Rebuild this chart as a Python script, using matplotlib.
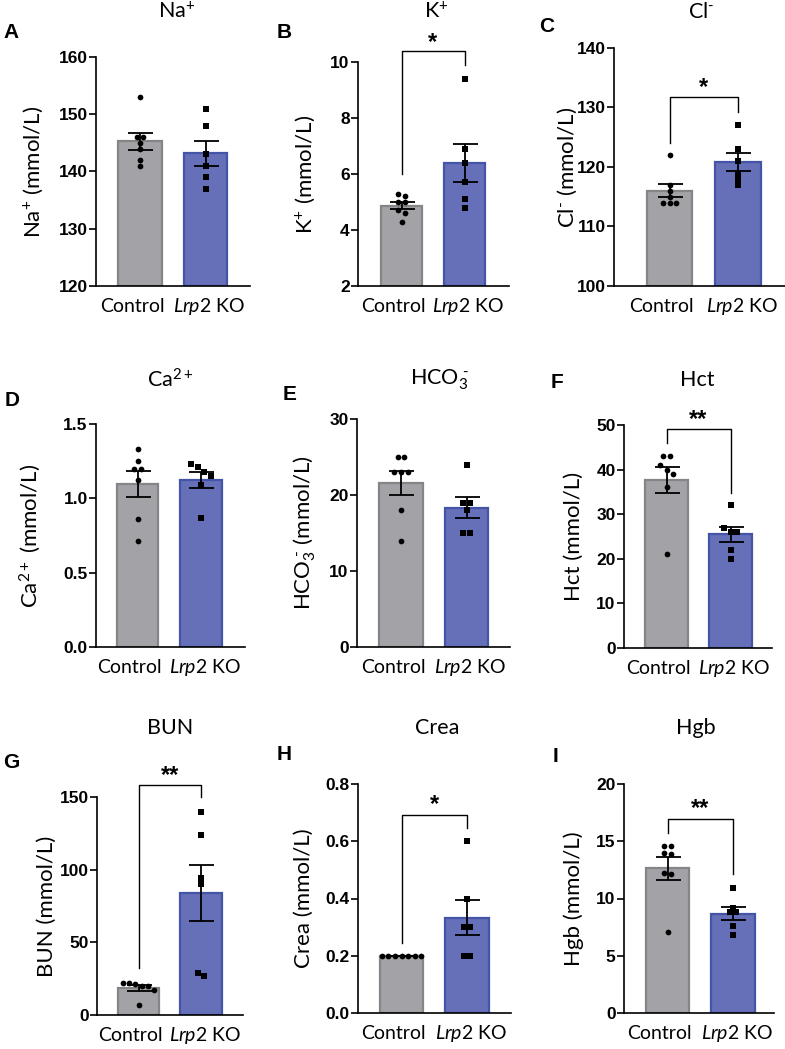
import matplotlib.pyplot as plt
import numpy as np

plt.rcParams['font.family'] = ['Lato', 'DejaVu Sans']
plt.rcParams['mathtext.fontset'] = 'custom'
plt.rcParams['mathtext.rm'] = 'Lato'
plt.rcParams['mathtext.it'] = 'Lato:italic'

groups = ["Control", r"$\mathit{Lrp2}$ KO"]

# panel data (Control n=7, Lrp2 KO n=6)
na_ctrl = [153, 146, 146, 145, 144, 142, 141]
na_ko = [151, 148, 143, 141, 139, 137]
k_ctrl = [5.3, 5.2, 5.0, 5.0, 4.7, 4.6, 4.3]
k_ko = [9.4, 6.9, 6.4, 5.7, 5.1, 4.8]
cl_ctrl = [122, 117, 116, 115, 114, 114, 114]
cl_ko = [127, 123, 121, 119, 118, 117]
ca_ctrl = [1.33, 1.25, 1.20, 1.20, 1.12, 0.86, 0.71]
ca_ko = [1.23, 1.21, 1.18, 1.15, 1.09, 0.87]
hco3_ctrl = [25, 25, 23, 23, 23, 18, 14]
hco3_ko = [24, 19, 19, 18, 15, 15]
hct_ctrl = [43, 43, 41, 40, 39, 36, 21]
hct_ko = [32, 27, 26, 26, 22, 20]
bun_ctrl = [22, 22, 21, 20, 20, 17, 7]
bun_ko = [140, 124, 94, 90, 29, 27]
crea_ctrl = [0.2, 0.2, 0.2, 0.2, 0.2, 0.2, 0.2]
crea_ko = [0.6, 0.4, 0.3, 0.3, 0.2, 0.2]
hgb_ctrl = [14.6, 14.6, 14.0, 13.9, 12.2, 12.1, 7.1]
hgb_ko = [10.9, 9.2, 8.8, 8.8, 7.6, 6.8]

names = ["Na$^{+}$", "K$^{+}$", "Cl$^{\u2010}$", "Ca$^{2+}$", "HCO$_{3}^{\\ \u2010}$",
         "Hct", "BUN", "Crea", "Hgb"]
letters = list("ABCDEFGHI")
yranges = [(120, 160, 10), (2, 10, 2), (100, 140, 10), (0, 1.5, 0.5), (0, 30, 10),
           (0, 50, 10), (0, 150, 50), (0, 0.8, 0.2), (0, 20, 5)]
tickfmt = ["{:.0f}", "{:.0f}", "{:.0f}", "{:.1f}", "{:.0f}", "{:.0f}", "{:.0f}", "{:.1f}", "{:.0f}"]
stars = [None, "*", "*", None, None, "**", "**", "*", "**"]
data = [(na_ctrl, na_ko), (k_ctrl, k_ko), (cl_ctrl, cl_ko), (ca_ctrl, ca_ko), (hco3_ctrl, hco3_ko),
        (hct_ctrl, hct_ko), (bun_ctrl, bun_ko), (crea_ctrl, crea_ko), (hgb_ctrl, hgb_ko)]

# bracket: top, left leg end, right leg end, star y (data units)
brackets = [None, (10.38, 6.0, 9.9, 10.7), (131.8, 124, 129.3, 133.4), None, None,
            (49.1, 46, 34.8, 51.3), (158.3, 32, 150, 165), (0.693, 0.244, 0.646, 0.73),
            (16.94, 15.7, 12.1, 17.9)]

# layout in pixels: spine x, ctrl centre, ko centre, right end, top, bottom
layout = [(96, 140, 205.5, 250, 57, 286), (358, 401.5, 464.5, 509, 62, 286),
          (614, 669.5, 738, 785, 48, 286), (96, 137.5, 201, 245, 424, 647),
          (357, 401, 466.5, 510, 419, 647), (624, 666.5, 730.5, 772, 425, 648),
          (97, 138.5, 201, 243, 797, 1015), (358, 401.5, 467, 511, 784, 1013),
          (624, 667.5, 733, 774, 784, 1013)]
title_pos = [(177, 12), (436, 12), (701, 12), (170, 380), (439, 380), (697, 380),
             (170, 728), (437, 728), (696, 728)]
letter_pos = [(3, 33), (277, 33), (539, 27), (5, 400), (283, 395), (551, 382),
              (3, 763), (277, 755), (553, 757)]
ylabel_x = [33, 305, 567, 30, 305, 574, 47, 304, 574]
label_shift = [-8, 4]  # px, Control / Lrp2 KO group labels

W, H = 785, 1049
fill_cols = ["#a2a2a7", "#6670b8"]
edge_cols = ["#858587", "#4454a6"]
markers = ["o", "s"]
bold_font = ["Liberation Sans", "DejaVu Sans"]

fig = plt.figure(figsize=(W / 100, H / 100), dpi=100)


def spread(vals, tol):
    # horizontal offsets for points that sit at about the same height
    order = np.argsort(vals)[::-1]
    offs = np.zeros(len(vals))
    grp = [order[0]]
    clusters = []
    for i in order[1:]:
        if abs(vals[i] - vals[grp[-1]]) < tol:
            grp.append(i)
        else:
            clusters.append(grp)
            grp = [i]
    clusters.append(grp)
    for g in clusters:
        n = len(g)
        for k, i in enumerate(g):
            offs[i] = (k - (n - 1) / 2) * 0.1
    return offs


for p in range(9):
    sx, c0, c1, rx, top, bot = layout[p]
    gap = c1 - c0
    ax = fig.add_axes([sx / W, 1 - bot / H, (rx - sx) / W, (bot - top) / H])
    ax.set_xlim((sx - c0) / gap, 1 + (rx - c1) / gap)
    lo, hi, step = yranges[p]
    ax.set_ylim(lo, hi)
    ticks = np.arange(lo, hi + step / 2, step)
    ax.set_yticks(ticks)
    ax.set_yticklabels([tickfmt[p].format(t) for t in ticks], fontweight="bold",
                       family=bold_font, fontsize=12.5)
    ax.set_xticks([])
    for g, name in enumerate(groups):
        ax.annotate(name, xy=(g, 0), xycoords=("data", "axes fraction"),
                    xytext=(label_shift[g] * 0.72, -14.5), textcoords="offset points",
                    ha="center", va="center", fontsize=14)
    ax.tick_params(axis="y", length=5, width=1.2, pad=1)
    ax.spines["top"].set_visible(False)
    ax.spines["right"].set_visible(False)
    for s in ["left", "bottom"]:
        ax.spines[s].set_linewidth(1.2)

    tol = (hi - lo) * 4.5 / (bot - top)
    for g in range(2):
        vals = np.array(data[p][g], dtype=float)
        m = vals.mean()
        sem = vals.std(ddof=1) / np.sqrt(len(vals))
        ax.bar(g, m - lo, bottom=lo, width=0.66, color=fill_cols[g], edgecolor=edge_cols[g],
               linewidth=1.6, zorder=1)
        ax.errorbar(g, m, yerr=sem, color="black", capsize=9, capthick=1.3, elinewidth=1.3,
                    zorder=3)
        xs = g + spread(vals, tol)
        ax.scatter(xs, vals, marker=markers[g], s=17, color="black", zorder=4, linewidths=0,
                   clip_on=False)

    if brackets[p] is not None:
        btop, l_end, r_end, sy = brackets[p]
        ax.plot([0, 0, 1, 1], [l_end, btop, btop, r_end], color="black", lw=1.0,
                clip_on=False, zorder=5)
        ax.text(0.5, sy, stars[p], ha="center", va="center", fontsize=17, fontweight="bold",
                family=bold_font, clip_on=False)

    ax.set_ylabel(names[p] + " (mmol/L)", fontsize=16)
    ax.yaxis.label.set_va("center")
    ax.yaxis.set_label_coords((ylabel_x[p] - sx) / (rx - sx), 0.5)

    tx, ty = title_pos[p]
    fig.text(tx / W, 1 - ty / H, names[p], ha="center", va="center", fontsize=15.5)
    lx, ly = letter_pos[p]
    fig.text(lx / W, 1 - ly / H, letters[p], ha="left", va="center", fontsize=15,
             fontweight="bold", family=bold_font)

fig.savefig("out.png", dpi=100)
